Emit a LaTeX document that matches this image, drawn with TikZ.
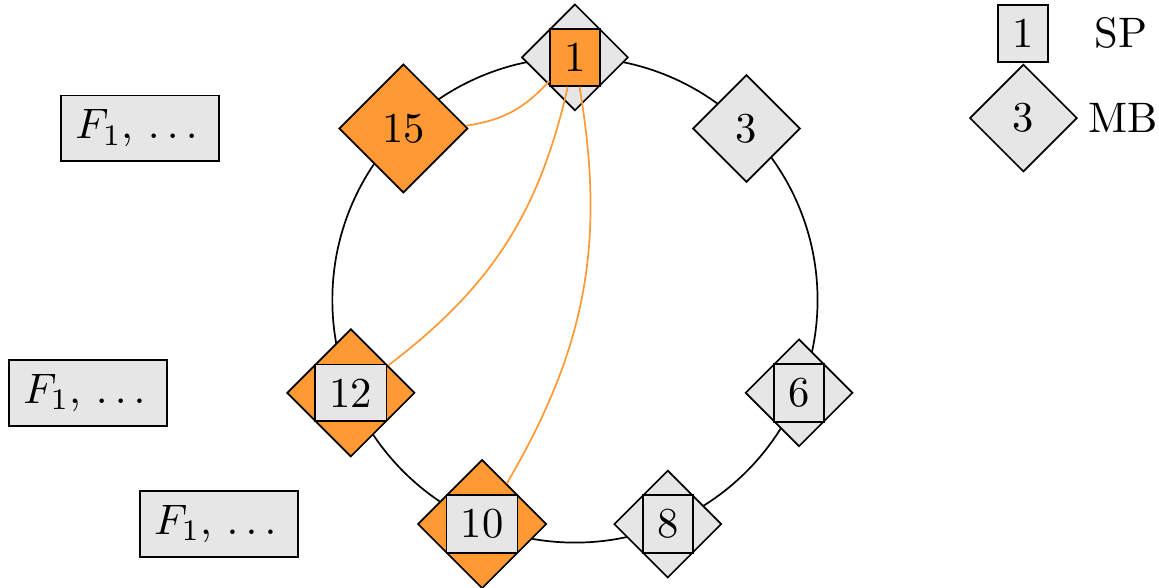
\documentclass[tikz,border=0pt]{standalone}
\usetikzlibrary{shapes.geometric,positioning}
\definecolor{og}{RGB}{255,153,51}
\definecolor{lg}{RGB}{230,230,230}
\tikzset{
  mb/.style={diamond, draw, aspect=1, inner sep=0.3333em, fill=#1},
  sp/.style={rectangle, draw, inner sep=0.3333em, fill=#1},
  fbox/.style={rectangle, draw, fill=lg},
  link/.style={draw=og, bend left=20},
}
\begin{document}
\begin{tikzpicture}
\useasboundingbox (-4.740,-2.374) rectangle (4.815,2.473);
\draw (0,0) circle (2cm);
\node[mb=lg] (d1) at (90:2) {1};
\node[sp=og] (s1) at (90:2) {1};
\node[mb=lg] (d3) at (45:2) {3};
\node[mb=lg] (d6) at (-22.5:2) {6};
\node[sp=lg] (s6) at (-22.5:2) {6};
\node[mb=lg] (d8) at (-67.5:2) {8};
\node[sp=lg] (s8) at (-67.5:2) {8};
\node[mb=og] (d10) at (-112.5:2) {10};
\node[sp=lg] (s10) at (-112.5:2) {10};
\node[mb=og] (d12) at (-157.5:2) {12};
\node[sp=lg] (s12) at (-157.5:2) {12};
\node[mb=og] (d15) at (135:2) {15};
\node[fbox, left=0.975cm of d15] (f15) {$F_1$, $\ldots\,$};
\node[fbox, left=0.975cm of d12] (f12) {$F_1$, $\ldots\,$};
\node[fbox, left=0.975cm of d10] (f10) {$F_1$, $\ldots\,$};
\draw[link] (s1) to (d15);
\draw[link] (s1) to (d12);
\draw[link] (s1) to (d10);
\node[sp=lg] (ls) at (3.693,2.197) {1};
\node[mb=lg] (ld) at (3.697,1.5) {3};
\node (lsp) at (4.50,2.2) {SP};
\node[right=-1pt of ld] (lmb) {MB};
\end{tikzpicture}
\end{document}
